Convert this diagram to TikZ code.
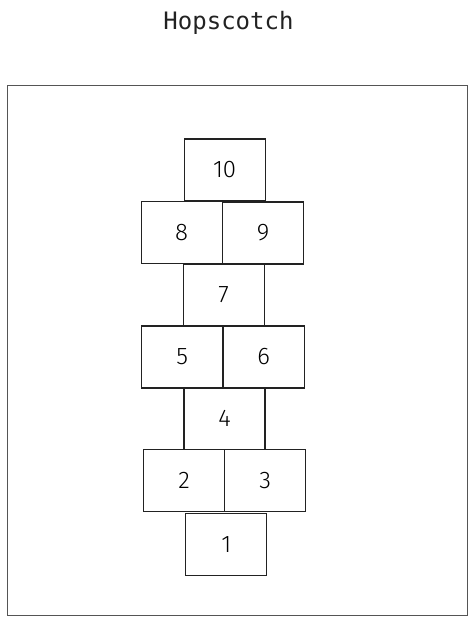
\documentclass[tikz,border=0pt]{standalone}
\usepackage{fontspec}
\usepackage{xcolor}
\usepackage{tikz}
\usetikzlibrary{positioning}
\newfontfamily\titlefont{DejaVu Sans Mono}
\newfontfamily\digitfont{Fira Sans Light}
\definecolor{inkgray}{HTML}{222222}
\definecolor{framegray}{HTML}{555555}
\tikzset{
    square/.style={draw=inkgray, line width=1.1pt, minimum width=81pt, minimum height=62pt,
        inner sep=0pt, font=\digitfont\fontsize{24}{24}\selectfont, text=black}
}

\begin{document}
\begin{tikzpicture}[x=1pt,y=-1pt]
    \useasboundingbox (0,0) rectangle (474,623);
    \node [font=\titlefont\fontsize{24}{24}\selectfont, text=inkgray] (title) at (228.5,23) {Hopscotch};
    \draw [framegray, line width=1pt] (7,86) rectangle (467,615);

    \node [square] (s10) at (224.6,170) {10};
    \node [square] (s8) at (181.6,232.5) {8};
    \node [square] (s9) at (263.0,233) {9};
    \node [square] (s7) at (223.6,295) {7};
    \node [square] (s5) at (182.3,357) {5};
    \node [square] (s6) at (263.6,357) {6};
    \node [square] (s4) at (224.5,418.7) {4};
    \node [square] (s2) at (184.2,480.3) {2};
    \node [square] (s3) at (265.3,480.3) {3};
    \node [square] (s1) at (226.3,544.2) {1};
\end{tikzpicture}
\end{document}
